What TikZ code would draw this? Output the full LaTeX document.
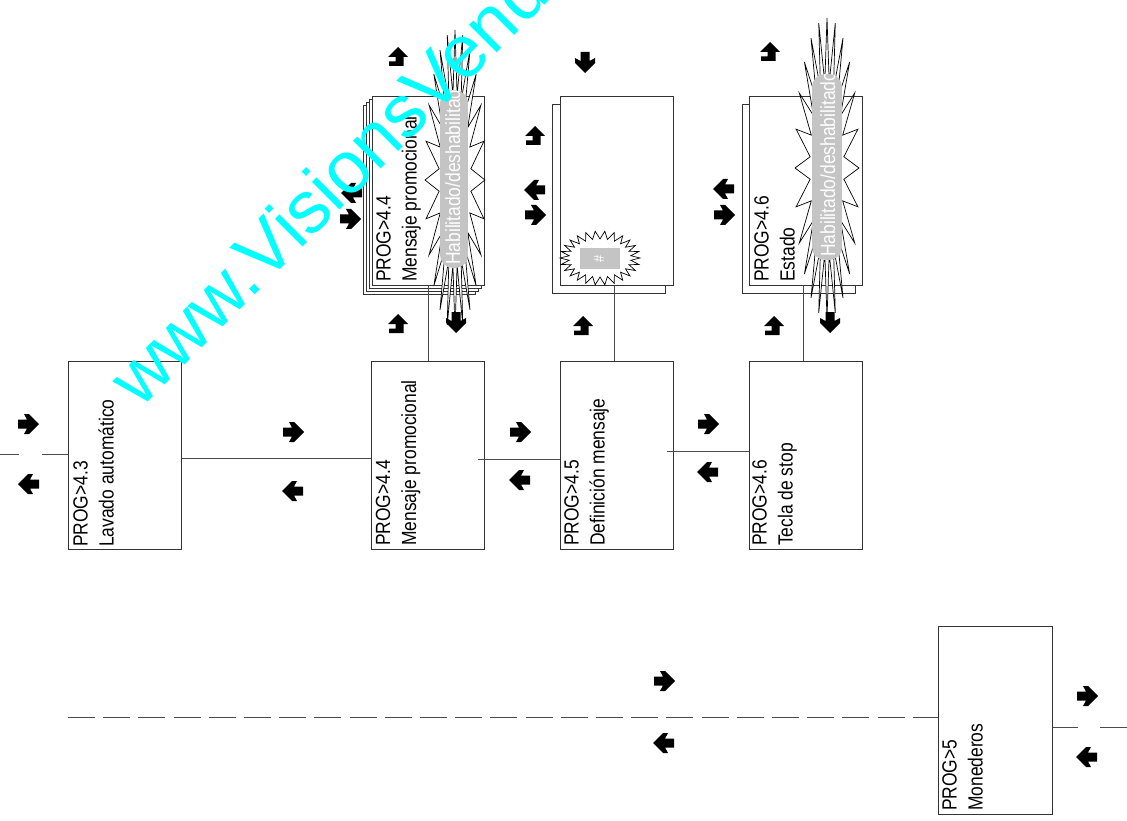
\documentclass[tikz,border=0pt]{standalone}
\usepackage{fontspec}
\newfontfamily\nf[FakeStretch=0.85]{Liberation Sans}
\newfontfamily\wmf{Liberation Sans}
\definecolor{wmcyan}{RGB}{0,255,255}
\newcommand\mkburst[8]{%
  \filldraw[burststyle] ({#1+#3},{#2})
    \foreach \k in {1,...,#8} {
      -- ({#1+ifthenelse(mod(\k,2)==0,#3,#5)*cos(\k*180/#7)},
          {#2+ifthenelse(mod(\k,2)==0,#4,#6)*sin(\k*180/#7)})
    } -- cycle;}
\tikzset{
  box/.style={draw=black!80, line width=1pt, fill=white, minimum width=113pt,
    minimum height=188pt, inner sep=0pt},
  lbl/.style={rotate=90, anchor=north west, inner sep=0pt, align=left,
    font=\nf\fontsize{20.5}{26}\selectfont},
  conn/.style={draw=black!70, line width=1pt},
  burststyle/.style={fill=white, draw=black, line width=0.7pt, line join=miter},
  pill/.style={fill=black!23},
  pilltext/.style={rotate=90, anchor=base west, inner sep=0pt, text=white,
    font=\nf\fontsize{20.5}{24}\selectfont},
  rarr/.pic={\fill (-10,4.5) -- (-1,4.5) -- (-4,10) -- (1,10) -- (11,0) -- (1,-10) -- (-4,-10) -- (-1,-4.5) -- (-10,-4.5) -- cycle;},
  larr/.pic={\fill (10,4.5) -- (1,4.5) -- (4,10) -- (-1,10) -- (-11,0) -- (-1,-10) -- (4,-10) -- (1,-4.5) -- (10,-4.5) -- cycle;},
  darr/.pic={\fill (4.5,-10) -- (4.5,-1) -- (10,-4) -- (10,1) -- (0,11) -- (-10,1) -- (-10,-4) -- (-4.5,-1) -- (-4.5,-10) -- cycle;},
  uarr/.pic={\fill (0,-10) -- (10,0) -- (5.5,0) -- (5.5,9) -- (-9,9) -- (-9,4.5) -- (-2.5,4.5) -- (-2.5,0) -- (-10,0) -- cycle;},
}
\begin{document}
\begin{tikzpicture}[x=1pt, y=-1pt]
\useasboundingbox (0,0) rectangle (1127,821);
\clip (0,0) rectangle (1127,821);
\fill[white] (0,0) rectangle (1127,821);

% main row
\node[box] (A) at (124.5,455.5) {};
\node[box] (B) at (427.5,455.5) {};
\node[box] (C) at (616.5,455.5) {};
\node[box] (D) at (805.5,455.5) {};
\node[box, minimum width=114pt] (E) at (995,720) {};

% stacks
\node[box, minimum width=112pt] (S44c) at (419,200) {};
\node[box, minimum width=112pt] (S44b) at (422,197) {};
\node[box, minimum width=112pt] (S44a) at (425,194) {};
\node[box, minimum width=112pt] (S44) at (428,191) {};
\node[box] (S45b) at (608.5,199) {};
\node[box] (S45) at (616.5,191) {};
\node[box] (S46b) at (798.5,199) {};
\node[box] (S46) at (805.5,191) {};

% labels
\node[lbl] (lA) at (73,547) {PROG>4.3\\Lavado automático};
\node[lbl] (lB) at (375.5,546) {PROG>4.4\\Mensaje promocional};
\node[lbl] (lC) at (564,546) {PROG>4.5\\Definición mensaje};
\node[lbl] (lD) at (752,546) {PROG>4.6\\Tecla de stop};
\node[lbl] (lE) at (942,811) {PROG>5\\Monederos};
\node[lbl] (l44) at (376,282) {PROG>4.4\\Mensaje promocional};
\node[lbl] (l46) at (754,282) {PROG>4.6\\Estado};

% connectors
\coordinate (lstubA) at (0,454);
\coordinate (lstubB) at (19,454);
\coordinate (lstubC) at (42,454);
\draw[conn] (lstubA) -- (lstubB);
\draw[conn] (lstubC) -- (A.west |- lstubC);
\draw[conn] (A.east |- 0,458) -- (B.west |- 0,458);
\draw[conn] ([xshift=-7pt]B.east |- 0,459) -- (C.west |- 0,459);
\draw[conn] ([xshift=-7pt]C.east |- 0,451) -- (D.west |- 0,451);
\draw[conn] (S44.south) -- (S44.south |- B.north);
\draw[conn] ([xshift=-2.5pt]S45.south) -- ([xshift=-2.5pt]S45.south |- C.north);
\draw[conn] ([xshift=-2.5pt]S46.south) -- ([xshift=-2.5pt]S46.south |- D.north);
\coordinate (dstart) at (68,717);
\draw[conn, dash pattern=on 27pt off 8.2pt] (dstart) -- (E.west |- dstart);
\coordinate (rstubA) at (1078,727);
\coordinate (rstubB) at (1100,727);
\coordinate (rstubC) at (1127,727);
\draw[conn] (E.east |- rstubA) -- (rstubA);
\draw[conn] (rstubB) -- (rstubC);

% bursts
\mkburst{455}{180}{30}{150}{16}{86}{24}{47}
\begin{scope}
  \path[clip, rounded corners=13pt] (440,90) rectangle (468,268);
  \fill[pill] (440,90) rectangle (468,268);
  \node[pilltext] (h44) at (460,265) {Habilitado/deshabilitado};
\end{scope}
\mkburst{827}{168}{32}{150}{17}{86}{24}{47}
\begin{scope}
  \path[clip, rounded corners=13pt] (812,74) rectangle (842,260);
  \fill[pill] (812,74) rectangle (842,260);
  \node[pilltext] (h46) at (835,257) {Habilitado/deshabilitado};
\end{scope}
\mkburst{600}{258}{40}{27}{31}{19}{26}{51}
\fill[pill] (580,248) rectangle (620,269);
\node[rotate=90, text=white, inner sep=0pt, font=\nf\fontsize{15}{18}\selectfont] (hash) at (599,259) {\#};

% arrows
\foreach \p in {(28,424),(293,432),(520,432),(708,424),(664,681),(1087,696),(350,219),(535,215),(724,215)}
  \pic at \p {rarr};
\foreach \p in {(29,484),(293,491),(520,480),(708,472),(664,743),(1087,757),(352,193),(535,190),(724,189)}
  \pic at \p {larr};
\foreach \p in {(585,62),(456,322),(830,322)}
  \pic at \p {darr};
\foreach \p in {(398,57),(398,324),(535,136),(583,326),(770,52),(774,326)}
  \pic at \p {uarr};

% watermark
\node[rotate=45, anchor=base west, inner sep=0pt, text=wmcyan,
  font=\wmf\fontsize{74}{78}\selectfont] (wm) at (140,410) {www.VisionsVending};
\end{tikzpicture}
\end{document}
